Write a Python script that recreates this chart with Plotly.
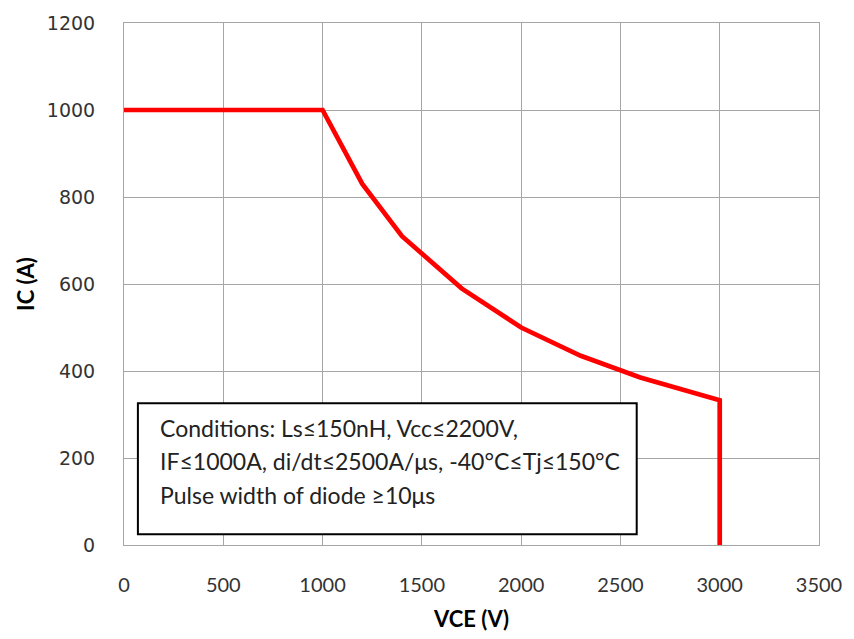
import plotly.graph_objects as go

vce = [0, 1000, 1200, 1400, 1700, 2000, 2300, 2600, 3000, 3000]
ic = [1000, 1000, 830, 710, 590, 500, 435, 385, 333, 0]

x_ticks = [0, 500, 1000, 1500, 2000, 2500, 3000, 3500]
y_ticks = [0, 200, 400, 600, 800, 1000, 1200]

note_lines = [
    "Conditions: Ls≤150nH, Vcc≤2200V,",
    "IF≤1000A, di/dt≤2500A/μs, -40°C≤Tj≤150°C",
    "Pulse width of diode ≥10μs",
]

fig = go.Figure()
fig.add_trace(go.Scatter(x=vce, y=ic, mode="lines",
                         line=dict(color="#ff0000", width=4.7), showlegend=False,
                         cliponaxis=False))

grid = "#a6a6a6"
fig.update_layout(
    width=854, height=639,
    margin=dict(l=124, r=32, t=18, b=94),
    paper_bgcolor="white", plot_bgcolor="white",
    font=dict(family="Lato", size=18, color="#000000"),
    xaxis=dict(range=[0, 3500], tickvals=x_ticks, showgrid=True, gridcolor=grid, gridwidth=1,
               showline=True, linecolor=grid, mirror=True, zeroline=False,
               ticks="", ticklabelstandoff=22,
               tickfont=dict(family="Lato", size=20, color="#333333"),
               title=dict(text="<b>VCE (V)</b>", font=dict(family="Lato", size=22), standoff=16)),
    yaxis=dict(range=[0, 1200], tickvals=y_ticks, showgrid=True, gridcolor=grid, gridwidth=1,
               showline=True, linecolor=grid, mirror=True, zeroline=False,
               ticks="", ticklabelstandoff=24,
               tickfont=dict(family="DejaVu Sans", size=19, color="#333333"),
               title=dict(text="<b>IC (A)</b>", font=dict(family="Lato", size=22), standoff=6)),
)

fig.add_shape(type="rect", xref="x", yref="y", x0=70, x1=2582, y0=25, y1=326,
              line=dict(color="black", width=2), fillcolor="white", layer="above")
for i, t in enumerate(note_lines):
    fig.add_annotation(x=170, y=268 - i * 76, xref="x", yref="y", text=t, showarrow=False,
                       xanchor="left", yanchor="middle",
                       font=dict(family="Lato", size=23, color="#222222"))

fig.write_html("out.html")
